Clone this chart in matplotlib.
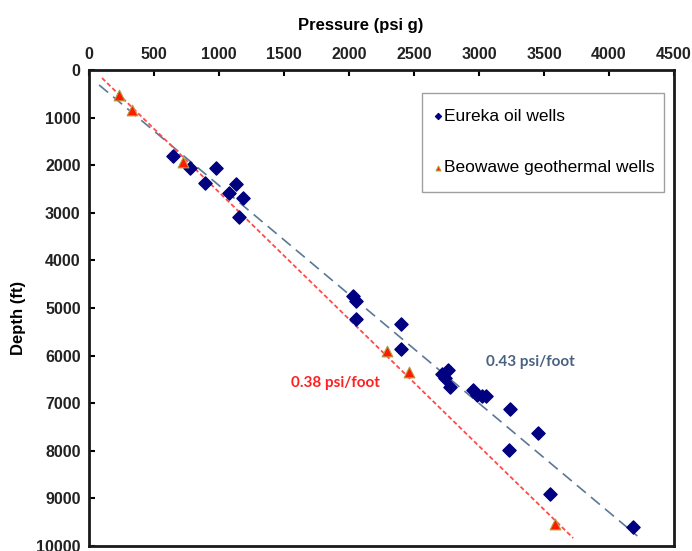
import numpy as np
import matplotlib.pyplot as plt
from matplotlib.patches import Rectangle

# Eureka oil wells: pressure (psi g), depth (ft)
eureka_p = [646, 777, 977, 892, 1131, 1077, 1185, 1154,
            2031, 2054, 2054, 2400, 2400, 2715, 2762, 2738, 2777,
            2954, 2985, 3023, 3054, 3238, 3454, 3231, 3546, 4185]
eureka_d = [1807, 2059, 2059, 2374, 2395, 2584, 2689, 3088,
            4748, 4853, 5231, 5336, 5861, 6387, 6303, 6470, 6660,
            6723, 6828, 6849, 6849, 7122, 7626, 7983, 8908, 9601]

# Beowawe geothermal wells
beo_p = [231, 331, 723, 2292, 2462, 3585]
beo_d = [525, 840, 1933, 5903, 6345, 9538]

# gradient lines: pressure = slope * depth + offset
blue_slope, blue_off, blue_depths = 0.437, -60, [315, 9790]
red_slope, red_off, red_depths = 0.375, 37, [168, 9832]

plt.rcParams['font.family'] = ['Liberation Sans', 'DejaVu Sans']

fig = plt.figure(figsize=(6.92, 5.51), dpi=100)
ax = fig.add_axes([0.1286, 0.0091, 0.8454, 0.8639])

bd = np.array(blue_depths)
rd = np.array(red_depths)
ax.plot(blue_slope * bd + blue_off, bd, ls=(0, (7, 4)), color='#5b7896', lw=1.2)
ax.plot(red_slope * rd + red_off, rd, ls=(0, (2.5, 1.5)), color='#ff4a4a', lw=1.3)

ax.scatter(eureka_p, eureka_d, marker='D', s=45, color='#000080', zorder=3,
           label='Eureka oil wells')
ax.scatter(beo_p, beo_d, marker='^', s=60, color='#ff1a00', edgecolor='#b0a040',
           linewidth=0.8, zorder=3, label='Beowawe geothermal wells')

ax.text(3392, 6134, '0.43 psi/foot', color='#4a6282', fontsize=11, fontweight='bold',
        family=['Lato', 'DejaVu Sans'], ha='center', va='center')
ax.text(1892, 6576, '0.38 psi/foot', color='#ff2020', fontsize=11, fontweight='bold',
        family=['Lato', 'DejaVu Sans'], ha='center', va='center')

ax.set_xlim(0, 4500)
ax.set_ylim(10000, 0)
ax.set_xticks(np.arange(0, 4501, 500))
ax.set_yticks(np.arange(0, 10001, 1000))
ax.xaxis.tick_top()
ax.xaxis.set_label_position('top')
ax.tick_params(direction='in', length=4, width=1.5, labelsize=11.5, pad=6)
for lab in ax.get_xticklabels() + ax.get_yticklabels():
    lab.set_fontweight('bold')
    lab.set_color('#222222')
for s in ax.spines.values():
    s.set_linewidth(2)
    s.set_color('#1a1a1a')

ax.set_xlabel('Pressure (psi g)', fontsize=12, fontweight='bold')
ax.xaxis.set_label_coords(0.465, 1.085)
ax.set_ylabel('Depth (ft)', fontsize=12, fontweight='bold')
ax.yaxis.set_label_coords(-0.108, 0.48)

# legend box drawn separately so it can be taller than the entries need
ax.add_patch(Rectangle((0.569, 0.744), 0.414, 0.208, transform=ax.transAxes,
                       facecolor='white', edgecolor='#a0a0a0', lw=1, zorder=4))
leg = ax.legend(loc='center', bbox_to_anchor=(0.779, 0.849), frameon=False,
                fontsize=12.5, markerscale=0.45, labelspacing=2.1,
                handletextpad=0.2, handlelength=0.3, borderpad=0)
leg.set_zorder(5)

fig.savefig('out.png', dpi=100)
